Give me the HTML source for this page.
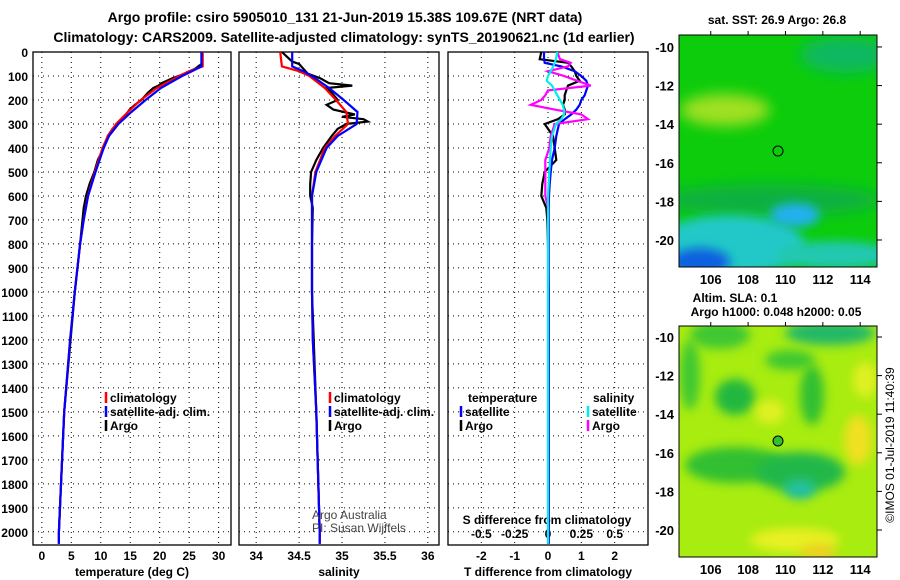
<!DOCTYPE html>
<html><head><meta charset="utf-8"><style>
body{margin:0;background:#fff}
svg{display:block;font-family:"Liberation Sans",sans-serif;font-weight:bold}
</style></head><body>
<svg id="s" width="900" height="580" xmlns="http://www.w3.org/2000/svg">
<defs>
<filter id="bl" x="-100%" y="-100%" width="300%" height="300%"><feGaussianBlur stdDeviation="7"/></filter>
<filter id="bl2" x="-100%" y="-100%" width="300%" height="300%"><feGaussianBlur stdDeviation="5"/></filter>
<clipPath id="c1"><rect x="679" y="35" width="198" height="232"/></clipPath>
<clipPath id="c2"><rect x="679" y="326" width="198" height="231"/></clipPath>
</defs>
<text x="345" y="22" text-anchor="middle" font-size="14">Argo profile: csiro 5905010_131 21-Jun-2019 15.38S 109.67E (NRT data)</text>
<text x="344" y="42" text-anchor="middle" font-size="14">Climatology: CARS2009. Satellite-adjusted climatology: synTS_20190621.nc (1d earlier)</text>
<g id="plots"></g>
<g clip-path="url(#c1)">
<rect x="679" y="35" width="198" height="232" fill="#0ccc0c"/>
<ellipse cx="725" cy="110" rx="45" ry="16" fill="#a0e020" filter="url(#bl)"/>
<ellipse cx="845" cy="55" rx="45" ry="18" fill="#10b860" filter="url(#bl)"/>
<ellipse cx="770" cy="200" rx="110" ry="16" fill="#10b040" filter="url(#bl)"/>
<ellipse cx="730" cy="245" rx="75" ry="30" fill="#20c8c8" filter="url(#bl2)"/>
<ellipse cx="795" cy="215" rx="25" ry="12" fill="#20b0f0" filter="url(#bl2)"/>
<ellipse cx="835" cy="255" rx="60" ry="14" fill="#20c8b0" filter="url(#bl2)"/>
<ellipse cx="700" cy="262" rx="30" ry="14" fill="#1060e0" filter="url(#bl2)"/>
<circle cx="778" cy="151" r="5" fill="none" stroke="#000"/>
</g>
<rect x="679" y="35" width="198" height="232" fill="none" stroke="#000"/>
<g clip-path="url(#c2)">
<rect x="679" y="326" width="198" height="231" fill="#a8ec10"/>
<ellipse cx="720" cy="335" rx="30" ry="14" fill="#40c830" filter="url(#bl2)"/>
<ellipse cx="830" cy="333" rx="45" ry="12" fill="#20b868" filter="url(#bl2)"/>
<ellipse cx="790" cy="360" rx="25" ry="10" fill="#40c830" filter="url(#bl2)"/>
<ellipse cx="735" cy="397" rx="20" ry="18" fill="#20b840" filter="url(#bl2)"/>
<ellipse cx="812" cy="395" rx="12" ry="30" fill="#30c030" filter="url(#bl2)"/>
<ellipse cx="690" cy="375" rx="10" ry="35" fill="#40c830" filter="url(#bl2)"/>
<ellipse cx="735" cy="465" rx="50" ry="18" fill="#30c030" filter="url(#bl2)"/>
<ellipse cx="800" cy="472" rx="45" ry="20" fill="#20b848" filter="url(#bl2)"/>
<ellipse cx="800" cy="489" rx="16" ry="10" fill="#20c0a0" filter="url(#bl2)"/>
<ellipse cx="770" cy="412" rx="15" ry="12" fill="#e0f020" filter="url(#bl2)"/>
<ellipse cx="858" cy="440" rx="14" ry="25" fill="#f0e020" filter="url(#bl2)"/>
<ellipse cx="865" cy="380" rx="12" ry="18" fill="#e0f020" filter="url(#bl2)"/>
<ellipse cx="795" cy="540" rx="45" ry="12" fill="#e8f020" filter="url(#bl2)"/>
<ellipse cx="818" cy="552" rx="18" ry="8" fill="#f0d020" filter="url(#bl2)"/>
<circle cx="778" cy="441" r="5" fill="#30c030" stroke="#000"/>
</g>
<rect x="679" y="326" width="198" height="231" fill="none" stroke="#000"/>
<text x="777" y="24" text-anchor="middle" font-size="12">sat. SST: 26.9 Argo: 26.8</text>
<text x="735" y="302" text-anchor="middle" font-size="12">Altim. SLA: 0.1</text>
<text x="776" y="316" text-anchor="middle" font-size="12">Argo h1000: 0.048 h2000: 0.05</text>
<text transform="translate(894,445) rotate(-90)" text-anchor="middle" font-size="12" font-weight="normal">©IMOS 01-Jul-2019 11:40:39</text>
</svg>
<script>
const NS="http://www.w3.org/2000/svg";
const depthTicks=[0,100,200,300,400,500,600,700,800,900,1000,1100,1200,1300,1400,1500,1600,1700,1800,1900,2000];
const tTicks=[0,5,10,15,20,25,30];
const sTicks=[34,34.5,35,35.5,36];
const dTicks=[-2,-1,0,1,2];
const dsTicks=[-0.5,-0.25,0,0.25,0.5];
const climDepth=[0,60,80,100,150,200,250,300,350,400,500,600,700,800,1000,1200,1500,2000,2050];
const tClim=[27.3,27.3,25,23.3,19.5,16.8,14.6,12.6,11.2,10.3,9.0,7.8,7.1,6.5,5.6,4.8,3.8,2.9,2.9];
const tSat=[27.1,27.1,25.5,23.8,20.2,17.6,15.2,13.0,11.4,10.5,9.1,7.85,7.1,6.5,5.6,4.8,3.8,2.9,2.9];
const sClim=[34.28,34.3,34.5,34.62,34.8,34.93,35.05,35.07,34.92,34.8,34.69,34.65,34.65,34.65,34.65,34.66,34.7,34.74,34.74];
const sSat=[34.42,34.42,34.55,34.65,34.85,35.02,35.18,35.17,34.95,34.82,34.7,34.65,34.65,34.65,34.65,34.66,34.7,34.74,34.74];
const argoDepth=[0,40,50,70,90,110,130,140,150,170,200,220,240,260,270,280,290,300,320,350,400,450,500,550,600,650,800,1000,1500,2000,2050];
const tArgo=[27.1,27.1,27.1,26,24.3,22.1,20.3,19.8,18.9,18,16.9,15.8,14.9,14.3,13.9,13.5,13.1,12.8,12.0,11.2,10.5,9.5,8.9,8.1,7.5,7.1,6.5,5.6,3.8,2.9,2.9];
const sArgo=[34.3,34.42,34.5,34.55,34.6,34.75,34.85,35.12,34.82,34.88,34.95,34.82,34.9,35.15,35.0,35.25,35.3,35.05,34.95,34.88,34.78,34.7,34.64,34.63,34.63,34.66,34.65,34.65,34.7,34.74,34.74];
const diffDepth=[0,30,45,60,80,100,120,140,160,180,200,220,240,260,280,300,350,400,450,500,550,600,650,700,800,1000,2050];
const dTSat=[-0.12,-0.12,-0.1,0.4,0.8,1.0,1.15,1.2,1.15,1.1,1.0,0.95,0.85,0.7,0.5,0.33,0.25,0.2,0.12,0.08,0.05,0.03,0.02,0.02,0.02,0.02,0.02];
const dTArgo=[-0.2,-0.25,0.6,0.7,0.8,0.85,0.95,0.6,0.55,0.5,0.5,0.45,0.5,0.5,0.3,-0.1,0.15,0.2,0.25,-0.1,-0.17,-0.2,-0.05,-0.02,0,0.02,0.02];
const dSArgo=[0.07,0.09,0.17,0.15,0,0.12,0.22,0.32,0,-0.02,-0.05,-0.13,0.05,0.25,0.3,0.05,0.02,0.01,-0.02,-0.02,-0.02,-0.02,0.0,0.0,0.0,0.0,0.0];
const dSSat=[0.07,0.06,0.05,0.04,0.02,0,-0.01,0.03,0.05,0.07,0.09,0.11,0.12,0.12,0.1,0.06,0.03,0.02,0.015,0.01,0.005,0,0,0,0,0,0];
const lonTicks=[106,108,110,112,114];
const latTicks=[-10,-12,-14,-16,-18,-20];

const Y0=52,Y1=545;
const yD=d=>Y0+d*(Y1-Y0)/2055;
const P1={x0:33,x1:231,lo:-1.5,hi:32.1};
const P2={x0:239,x1:439,lo:33.8,hi:36.13};
const P3={x0:448,x1:648,lo:-3,hi:3};
const sx=(p,v)=>p.x0+(v-p.lo)*(p.x1-p.x0)/(p.hi-p.lo);
const g=document.getElementById('plots');
function el(tag,attrs,parent){const e=document.createElementNS(NS,tag);for(const k in attrs)e.setAttribute(k,attrs[k]);(parent||g).appendChild(e);return e;}
function txt(x,y,s,anchor,size,parent,weight){const t=el('text',{x:x,y:y,'text-anchor':anchor||'middle','font-size':size||12},parent);if(weight)t.setAttribute('font-weight',weight);t.textContent=s;return t;}

function panel(p,ticks,fmt,name,xlabel){
  const grp=el('g',{});
  
  
  depthTicks.forEach(d=>{const l=el('line',{x1:p.x0,x2:p.x1,y1:yD(d),y2:yD(d),stroke:'#000','stroke-dasharray':'1 4'},grp);});
  ticks.forEach(v=>{const x=sx(p,v);const l=el('line',{x1:x,x2:x,y1:Y0,y2:Y1,stroke:'#000','stroke-dasharray':'1 4'},grp);
    const t=txt(x,Y1+15,fmt(v),'middle',12,grp);});
  const r=el('rect',{x:p.x0,y:Y0,width:p.x1-p.x0,height:Y1-Y0,fill:'none',stroke:'#000','stroke-width':1.3},grp);
  
  if(xlabel){const t=txt((p.x0+p.x1)/2,Y1+31,xlabel,'middle',12,grp);}
  return grp;
}
function line(p,xs,ds,color,name,parent,scale){
  const pts=xs.map((v,i)=>sx(p,v*(scale||1)).toFixed(1)+','+yD(ds[i]).toFixed(1)).join(' ');
  const l=el('polyline',{points:pts,fill:'none',stroke:color,'stroke-width':2.2},parent);
  
}
function legend(x,y,color,label,parent){
  const l=el('line',{x1:x,x2:x,y1:y-10,y2:y+1,stroke:color,'stroke-width':2.5},parent);
  
  const t=txt(x+4,y,label,'start',12,parent);
}
const g1=panel(P1,tTicks,v=>String(v),'temperature-panel','temperature (deg C)');
const g2=panel(P2,sTicks,v=>String(v),'salinity-panel','salinity');
const g3=panel(P3,dTicks,v=>String(v),'difference-panel','T difference from climatology');
depthTicks.forEach(d=>{const t=txt(28,yD(d)+5,String(d),'end',12);});
dsTicks.forEach(v=>{const t=txt(sx(P3,v*4),538,String(v),'middle',12,g3);});
{const t=txt(547,524,'S difference from climatology','middle',12,g3);}

line(P1,tArgo,argoDepth,'#000','temp-argo-line',g1);
line(P1,tClim,climDepth,'#f00','temp-clim-line',g1);
line(P1,tSat,climDepth,'#00f','temp-sat-line',g1);
line(P2,sArgo,argoDepth,'#000','sal-argo-line',g2);
line(P2,sClim,climDepth,'#f00','sal-clim-line',g2);
line(P2,sSat,climDepth,'#00f','sal-sat-line',g2);
line(P3,dTArgo,diffDepth,'#000','dt-argo-line',g3);
line(P3,dTSat,diffDepth,'#00f','dt-sat-line',g3);
line(P3,dSArgo,diffDepth,'#f0f','ds-argo-line',g3,4);
line(P3,dSSat,diffDepth,'#0ee','ds-sat-line',g3,4);

legend(106,402,'#f00','climatology',g1);legend(106,416,'#00f','satellite-adj. clim.',g1);legend(106,430,'#000','Argo',g1);
legend(330,402,'#f00','climatology',g2);legend(330,416,'#00f','satellite-adj. clim.',g2);legend(330,430,'#000','Argo',g2);
{const t=txt(468,402,'temperature','start',12,g3);}
legend(461,416,'#00f','satellite',g3);legend(461,430,'#000','Argo',g3);
{const t=txt(593,402,'salinity','start',12,g3);}
legend(588,416,'#0ee','satellite',g3);legend(588,430,'#f0f','Argo',g3);
{const t=txt(312,519,'Argo Australia','start',12,g2,'normal');t.setAttribute('fill','#444');
 const t2=txt(312,532,'PI: Susan Wijffels','start',12,g2,'normal');t2.setAttribute('fill','#444');}

const mLon=x=>679+(x-104.3)*(198/10.6);
function mapAxes(y0,y1,latTop,latBot,name){
  const ag=el('g',{});
  
  
  const my=v=>y0+(latTop-v)*(y1-y0)/(latTop-latBot);
  lonTicks.forEach(v=>{const x=mLon(v);el('line',{x1:x,x2:x,y1:y1,y2:y1-4,stroke:'#000'},ag);el('line',{x1:x,x2:x,y1:y0,y2:y0-4,stroke:'#000'},ag);
    const t=txt(x,y1+17,String(v),'middle',13,ag);});
  latTicks.forEach(v=>{const y=my(v);el('line',{x1:877,x2:882,y1:y,y2:y,stroke:'#000'},ag);
    const t=txt(674,y+5,String(v),'end',13,ag);});
  const st=txt(mLon(105.7),my(-10.5)+4,'*','middle',11,ag);
}
mapAxes(35,267,-9.38,-21.4,'sst-map-axes');
mapAxes(326,557,-9.43,-21.4,'sla-map-axes');
</script>
</body></html>
